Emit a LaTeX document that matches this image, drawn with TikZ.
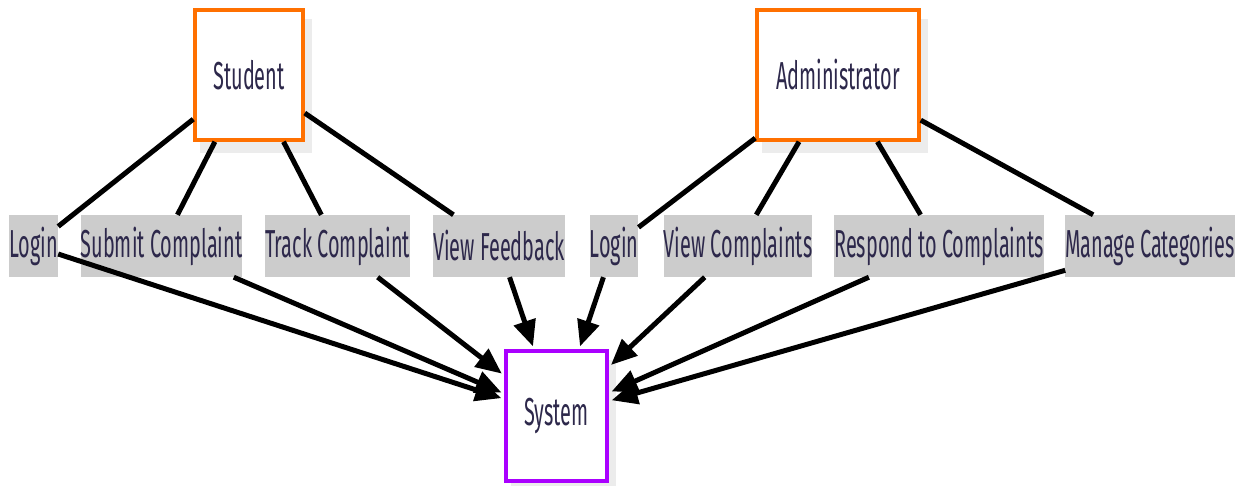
\documentclass[tikz,border=0pt]{standalone}
\usepackage{fontspec}
\setmainfont{Fira Sans}[FakeStretch=0.51]
\usetikzlibrary{arrows.meta,calc,backgrounds}
\definecolor{orangeC}{RGB}{255,112,0}
\definecolor{purpleC}{RGB}{170,0,255}
\definecolor{labelC}{RGB}{204,204,204}
\definecolor{textC}{RGB}{45,40,75}
\definecolor{shadowC}{RGB}{236,236,236}
\begin{document}
\begin{tikzpicture}[x=1pt,y=-1pt,
  box/.style={line width=3.5pt,fill=white,inner sep=0pt,text=textC,font=\fontsize{39}{41}\selectfont},
  actor/.style={box,draw=orangeC},
  sysbox/.style={box,draw=purpleC},
  lbl/.style={fill=labelC,draw=none,inner sep=0pt,minimum height=62pt,text=textC,font=\fontsize{39}{41}\selectfont},
  edge/.style={line width=5pt,black},
  arr/.style={edge,-{Triangle[length=26pt,width=22pt]},shorten >=3pt},
  shadowbox/.style={fill=shadowC,draw=none}]
\useasboundingbox (0,0) rectangle (1247,485);
% actors and system
\node[actor,minimum width=108pt,minimum height=130pt] (student) at (249,75) {Student};
\node[actor,minimum width=162pt,minimum height=130pt] (admin) at (838,75) {Administrator};
\node[sysbox,minimum width=101pt,minimum height=130pt] (system) at (556.5,416) {System};
% labels
\node[lbl,minimum width=49pt]  (login1) at (33.5,246) {Login};
\node[lbl,minimum width=157pt] (submit) at (161.5,246) {Submit Complaint};
\node[lbl,minimum width=143pt] (track)  at (337.5,246) {Track Complaint};
\node[lbl,minimum width=130pt] (feedback) at (499,246) {View Feedback};
\node[lbl,minimum width=48pt]  (login2) at (614,246) {Login};
\node[lbl,minimum width=148pt] (viewc)  at (738,246) {View Complaints};
\node[lbl,minimum width=204pt] (respond) at (939,246) {Respond to Complaints};
\node[lbl,minimum width=168pt] (manage) at (1150,246) {Manage Categories};
% shadows
\begin{scope}[on background layer]
\foreach \n in {student,admin,system}{
  \fill[shadowbox] ($(\n.north west)+(7,11)$) rectangle ($(\n.south east)+(7,11)$);
}
\end{scope}
% edges
\draw[edge] (student) -- (login1);
\draw[edge] (student) -- (submit);
\draw[edge] (student) -- (track);
\draw[edge] (student) -- (feedback);
\draw[edge] (admin) -- (login2);
\draw[edge] (admin) -- (viewc);
\draw[edge] (admin) -- (respond);
\draw[edge] (admin) -- (manage);
\draw[arr] (login1) -- (system);
\draw[arr] (submit) -- (system);
\draw[arr] (track) -- (system);
\draw[arr] (feedback) -- (system);
\draw[arr] (login2) -- (system);
\draw[arr] (viewc) -- (system);
\draw[arr] (respond) -- (system);
\draw[arr] (manage) -- (system);
\end{tikzpicture}
\end{document}
